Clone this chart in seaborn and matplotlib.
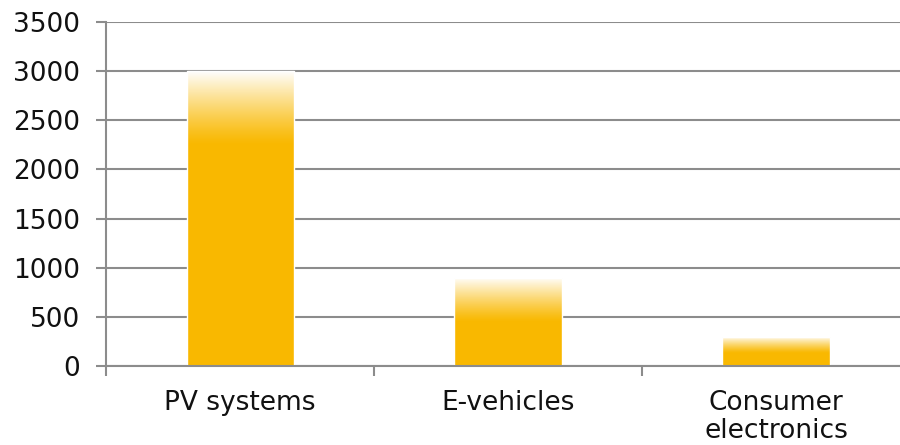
import numpy as np
import pandas as pd
import matplotlib
matplotlib.use("Agg")
import matplotlib.pyplot as plt
import seaborn as sns

categories = ["PV systems", "E-vehicles", "Consumer\nelectronics"]
values = [3000, 900, 300]
y_ticks = [0, 500, 1000, 1500, 2000, 2500, 3000, 3500]

bar_color = "#F9B800"
grid_color = "#8c8c8c"
# share of each bar (from the top) that fades to white
fade = [0.25, 0.5, 0.55]

sns.set_theme(style="white")
plt.rcParams["font.family"] = ["DejaVu Sans"]

df = pd.DataFrame({"category": categories, "value": values})

fig = plt.figure(figsize=(9, 4.45), dpi=100)
ax = fig.add_axes([0.118, 0.1775, 0.893, 0.773])

sns.barplot(data=df, x="category", y="value", color=bar_color, saturation=1,
            width=0.4, ax=ax, zorder=2)

# white fade over the top part of each bar
t = np.linspace(0, 1, 256)
for p, f in zip(ax.patches, fade):
    x0, y0 = p.get_x(), p.get_y()
    w, h = p.get_width(), p.get_height()
    grad = np.ones((256, 1, 4))
    grad[:, 0, 3] = t[::-1] ** 1.2  # row 0 is the top
    im = ax.imshow(grad, extent=[x0, x0 + w, y0 + h * (1 - f), y0 + h],
                   aspect="auto", zorder=3, interpolation="bilinear")
    im.set_clip_path(p)

ax.set_xlim(-0.5, 2.5)
ax.set_ylim(0, 3500)
ax.set_yticks(y_ticks)
ax.set_xlabel("")
ax.set_ylabel("")

ax.yaxis.grid(True, color=grid_color, linewidth=1.5, zorder=0)
ax.set_axisbelow(True)
for s in ["top", "right"]:
    ax.spines[s].set_visible(False)
for s in ["left", "bottom"]:
    ax.spines[s].set_color(grid_color)
    ax.spines[s].set_linewidth(1.5)

# category boundaries as major ticks, names on minor ticks
ax.set_xticks([-0.5, 0.5, 1.5, 2.5])
ax.set_xticklabels([])
ax.set_xticks([0, 1, 2], minor=True)
ax.set_xticklabels(categories, minor=True, fontsize=19, color="#111111",
                   linespacing=1.1)
ax.tick_params(axis="x", which="major", bottom=True, length=7, width=1.5,
               color=grid_color, direction="out")
ax.tick_params(axis="x", which="minor", bottom=True, length=0, pad=17)
ax.tick_params(axis="y", left=True, length=7, width=1.5, color=grid_color,
               direction="out", pad=12, labelsize=19, labelcolor="#111111")

fig.savefig("out.png", dpi=100)
